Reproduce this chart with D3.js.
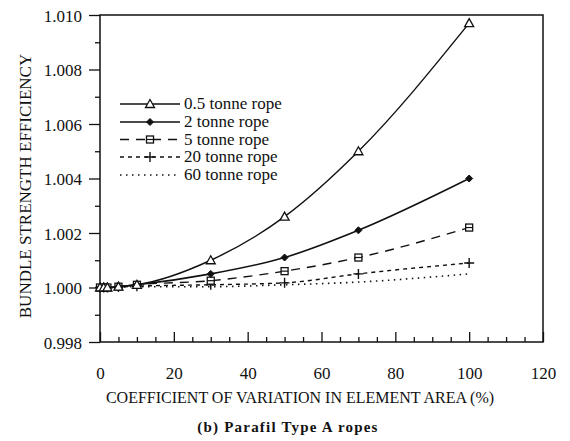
<!DOCTYPE html>
<html>
<head>
<meta charset="utf-8">
<script src="https://cdn.jsdelivr.net/npm/d3@7"></script>
<style>
  body { margin: 0; background: #fff; }
  svg text { font-family: 'Liberation Serif', 'DejaVu Serif', serif; fill: #111; }
</style>
</head>
<body>
<div id="chart"></div>
<script>
// values
const cv = [0, 1, 2, 5, 10, 30, 50, 70, 100];
const rope05 = [1.0000, 1.0000, 1.0000, 1.00003, 1.0001, 1.0010, 1.0026, 1.0050, 1.0097];
const rope2 = [1.0000, 1.0000, 1.0000, 1.00003, 1.0001, 1.0005, 1.0011, 1.0021, 1.0040];
const rope5 = [1.0000, 1.0000, 1.0000, 1.00003, 1.0001, 1.00025, 1.0006, 1.0011, 1.0022];
const rope20 = [1.0000, 1.0000, 1.0000, 1.00002, 1.00005, 1.0001, 1.00017, 1.0005, 1.0009];
const rope60 = [1.0000, 1.0000, 1.0000, 1.00001, 1.00003, 1.00003, 1.0001, 1.0002, 1.0005];
const seriesNames = ['0.5 tonne rope', '2 tonne rope', '5 tonne rope', '20 tonne rope', '60 tonne rope'];
const yMajor = [0.998, 1.000, 1.002, 1.004, 1.006, 1.008, 1.010];
const yMinor = [0.999, 1.001, 1.003, 1.005, 1.007, 1.009];
const xMajor = [0, 20, 40, 60, 80, 100, 120];

const width = 570;
const height = 441;
const margin = { top: 15, right: 27, bottom: 99, left: 100 };
const serif = "'Liberation Serif', 'DejaVu Serif', serif";

const svg = d3.select('#chart')
              .append('svg')
              .attr('width', width)
              .attr('height', height)
              .attr('font-family', serif);

const x = d3.scaleLinear()
            .domain([0, 120])
            .range([margin.left, width - margin.right]);

const y = d3.scaleLinear()
            .domain([0.998, 1.010])
            .range([height - margin.bottom, margin.top]);

const styles = [
  { dash: null, marker: 'triangle', w: 1.4 },
  { dash: null, marker: 'diamond', w: 1.6 },
  { dash: '9,7', marker: 'square', w: 1.4 },
  { dash: '4,4', marker: 'plus', w: 1.4 },
  { dash: '1.5,4.5', marker: null, w: 1.6 }
];
const allValues = [rope05, rope2, rope5, rope20, rope60];

// y axis, major + minor ticks pointing out
const yAxis = svg.append('g')
                 .attr('transform', 'translate(' + margin.left + ',0)')
                 .call(d3.axisLeft(y).tickValues(yMajor).tickSize(11).tickPadding(7)
                         .tickFormat(d3.format('.3f')));
yAxis.attr('font-family', serif).attr('font-size', 17);
yAxis.select('.domain').remove();
yAxis.selectAll('text').attr('dy', '0.36em');

const yMinorAxis = svg.append('g')
                      .attr('transform', 'translate(' + margin.left + ',0)')
                      .call(d3.axisLeft(y).tickValues(yMinor).tickSize(5).tickFormat(''));
yMinorAxis.select('.domain').remove();

// x axis, ticks pointing in
const xAxis = svg.append('g')
                 .attr('transform', 'translate(0,' + (height - margin.bottom) + ')')
                 .call(d3.axisBottom(x).tickValues(xMajor).tickSizeInner(-10).tickSizeOuter(0)
                         .tickPadding(25));
xAxis.attr('font-family', serif).attr('font-size', 17);
xAxis.select('.domain').remove();

const xMinorAxis = svg.append('g')
                      .attr('transform', 'translate(0,' + (height - margin.bottom) + ')')
                      .call(d3.axisBottom(x).tickValues(d3.range(5, 120, 5).filter((v) => v % 20 !== 0))
                              .tickSizeInner(-5).tickSizeOuter(0).tickFormat(''));
xMinorAxis.select('.domain').remove();

svg.selectAll('.tick line').attr('stroke', '#111').attr('stroke-width', 1.3);

// frame
svg.append('rect')
   .attr('x', x(0))
   .attr('y', y(1.010))
   .attr('width', x(120) - x(0))
   .attr('height', y(0.998) - y(1.010))
   .attr('fill', 'none')
   .attr('stroke', '#111')
   .attr('stroke-width', 1.5);

const line = d3.line()
               .x((d) => x(d[0]))
               .y((d) => y(d[1]))
               .curve(d3.curveMonotoneX);

const drawMarker = (g, type, cx, cy) => {
  if (type === 'triangle') {
    g.append('path')
     .attr('d', 'M' + cx + ',' + (cy - 4.5) + 'L' + (cx + 4.5) + ',' + (cy + 3.5) + 'L' + (cx - 4.5) + ',' + (cy + 3.5) + 'Z')
     .attr('fill', '#fff').attr('stroke', '#111').attr('stroke-width', 1.3);
  } else if (type === 'diamond') {
    g.append('path')
     .attr('d', 'M' + cx + ',' + (cy - 3.5) + 'L' + (cx + 3.5) + ',' + cy + 'L' + cx + ',' + (cy + 3.5) + 'L' + (cx - 3.5) + ',' + cy + 'Z')
     .attr('fill', '#111').attr('stroke', '#111').attr('stroke-width', 1);
  } else if (type === 'square') {
    g.append('rect')
     .attr('x', cx - 3.5).attr('y', cy - 3.5).attr('width', 7).attr('height', 7)
     .attr('fill', '#fff').attr('stroke', '#111').attr('stroke-width', 1.3);
    g.append('line')
     .attr('x1', cx - 3.5).attr('x2', cx + 3.5).attr('y1', cy).attr('y2', cy)
     .attr('stroke', '#111').attr('stroke-width', 1.2);
  } else if (type === 'plus') {
    g.append('path')
     .attr('d', 'M' + (cx - 5) + ',' + cy + 'H' + (cx + 5) + 'M' + cx + ',' + (cy - 5) + 'V' + (cy + 5))
     .attr('stroke', '#111').attr('stroke-width', 1.4);
  }
};

// series, drawn back to front
for (let s = allValues.length - 1; s >= 0; s--) {
  const pts = cv.map((v, i) => [v, allValues[s][i]]);
  const g = svg.append('g');
  g.append('path')
   .datum(pts)
   .attr('d', line)
   .attr('fill', 'none')
   .attr('stroke', '#111')
   .attr('stroke-width', styles[s].w)
   .attr('stroke-dasharray', styles[s].dash);
  if (styles[s].marker) {
    pts.forEach((p) => drawMarker(g, styles[s].marker, x(p[0]), y(p[1])));
  }
}

// legend
const legendY = [104, 122, 139.5, 157, 175];
seriesNames.forEach((name, i) => {
  const g = svg.append('g');
  g.append('line')
   .attr('x1', 120).attr('x2', 180)
   .attr('y1', legendY[i]).attr('y2', legendY[i])
   .attr('stroke', '#111')
   .attr('stroke-width', styles[i].w)
   .attr('stroke-dasharray', styles[i].dash);
  if (styles[i].marker) drawMarker(g, styles[i].marker, 150, legendY[i]);
  g.append('text')
   .attr('x', 184)
   .attr('y', legendY[i])
   .attr('dy', '0.32em')
   .attr('font-family', serif)
   .attr('font-size', 17)
   .text(name);
});

// axis titles
svg.append('text')
   .attr('x', 300)
   .attr('y', 403)
   .attr('text-anchor', 'middle')
   .attr('font-family', serif)
   .attr('font-size', 16)
   .text('COEFFICIENT OF VARIATION IN ELEMENT AREA (%)');

svg.append('text')
   .attr('transform', 'translate(31,' + 186 + ') rotate(-90)')
   .attr('text-anchor', 'middle')
   .attr('font-family', serif)
   .attr('font-size', 17)
   .text('BUNDLE STRENGTH EFFICIENCY');

svg.append('text')
   .attr('x', 288)
   .attr('y', 432)
   .attr('text-anchor', 'middle')
   .attr('font-family', serif)
   .attr('font-size', 15)
   .attr('font-weight', 'bold')
   .attr('letter-spacing', 1.2)
   .text('(b) Parafil Type A ropes');
</script>
</body>
</html>
